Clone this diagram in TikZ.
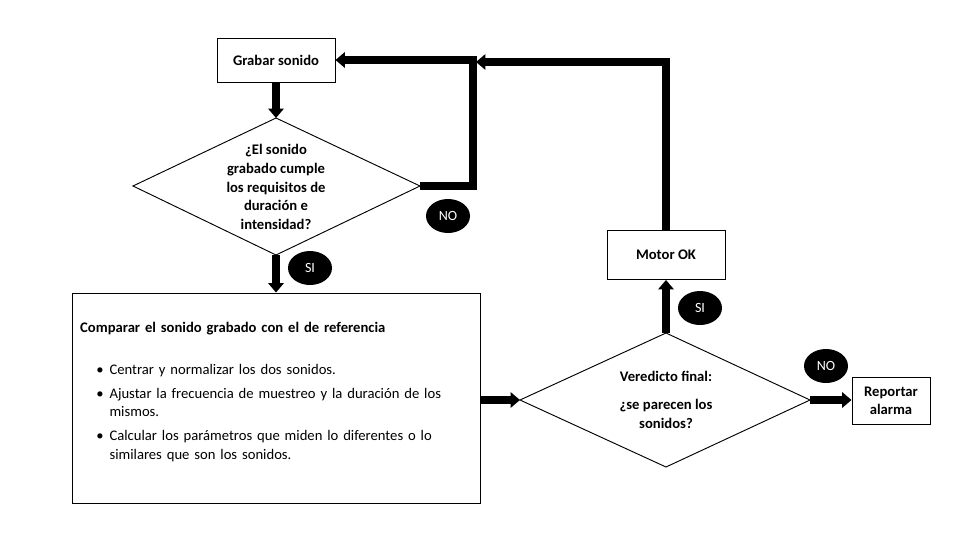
\documentclass[tikz,border=0pt]{standalone}
\usepackage{fontspec}
\setmainfont{Carlito}
\usetikzlibrary{arrows.meta}
\tikzset{
 box/.style={draw,line width=0.8pt,inner sep=0pt},
 flow/.style={line width=6pt,-{Triangle[length=8pt,width=13pt]}},
 tag/.style={fill=black,ellipse,text=white,minimum width=44*0.03cm,minimum height=34*0.03cm,inner sep=0pt,font=\fontsize{12}{14}\selectfont},
}
\usetikzlibrary{shapes.geometric}
\begin{document}
\begin{tikzpicture}[x=0.03cm,y=-0.03cm,font=\fontsize{12.5}{16}\selectfont]
 \useasboundingbox (0,0) rectangle (980,560);
 % boxes
 \node (grab) [box,minimum width=118*0.03cm,minimum height=44*0.03cm,font=\fontsize{12.5}{16}\selectfont\bfseries] at (276,60) {Grabar sonido};
 \node (motor) [box,minimum width=118*0.03cm,minimum height=49*0.03cm,font=\fontsize{12.5}{16}\selectfont\bfseries] at (666,255) {Motor OK};
 \node (rep) [box,minimum width=78*0.03cm,minimum height=47*0.03cm,align=center,font=\fontsize{12.5}{15}\selectfont\bfseries] at (891,401) {Reportar\\alarma};
 \node (comp) [box,minimum width=408*0.03cm,minimum height=210*0.03cm] at (276,398) {};
 \node [anchor=north west,text width=392*0.03cm,inner sep=0pt,align=left] at (80,322) {%
  \textbf{Comparar el sonido grabado con el de referencia}\par\vspace{10pt}
  \begin{itemize}\setlength{\itemsep}{0pt}\setlength{\parsep}{0pt}\setlength{\leftmargin}{18pt}\setlength{\itemindent}{0pt}
   \item Centrar y normalizar los dos sonidos.
   \item Ajustar la frecuencia de muestreo y la duración de los mismos.
   \item Calcular los parámetros que miden lo diferentes o lo similares que son los sonidos.
  \end{itemize}};
 % decisions
 \coordinate (d1t) at (276,118); \coordinate (d1b) at (276,255);
 \coordinate (d1l) at (133,186); \coordinate (d1r) at (420,186);
 \draw[line width=0.8pt] (d1t) -- (d1r) -- (d1b) -- (d1l) -- cycle;
 \node (q1) [align=center,font=\fontsize{12.5}{16}\selectfont\bfseries] at (276,187) {¿El sonido\\grabado cumple\\los requisitos de\\duración e\\intensidad?};
 \coordinate (d2t) at (666,333); \coordinate (d2b) at (666,467);
 \coordinate (d2l) at (520,400); \coordinate (d2r) at (810,400);
 \draw[line width=0.8pt] (d2t) -- (d2r) -- (d2b) -- (d2l) -- cycle;
 \node (q2) [align=center,font=\fontsize{12.5}{16}\selectfont\bfseries] at (666,400) {Veredicto final:\\[8pt]¿se parecen los\\sonidos?};
 % connectors
 \draw[flow] (grab) -- (d1t);
 \draw[flow] (d1b) -- (comp.north -| d1b);
 \draw[flow] (d1r) -- (473,186) -- (473,60) -- (grab.east);
 \draw[flow] (comp.east |- d2l) -- (d2l);
 \draw[flow] (d2r) -- (rep.west |- d2r);
 \draw[flow] (d2t) -- (motor.south);
 \coordinate (back) at (476,62);
 \draw[flow] (motor.north) -- (666,62) -- (back);
 % tags
 \node (no1) [tag] at (448,216) {NO};
 \node (si1) [tag] at (310,268) {SI};
 \node (si2) [tag] at (700,308) {SI};
 \node (no2) [tag] at (826,366) {NO};
\end{tikzpicture}
\end{document}
